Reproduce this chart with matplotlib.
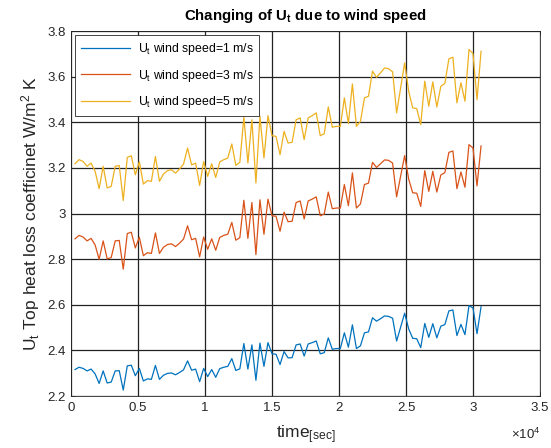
# Top heat loss coefficient Ut vs time for three wind speeds
import numpy as np
import matplotlib
matplotlib.use('Agg')
import matplotlib.pyplot as plt

plt.rcParams['font.family'] = ['Liberation Sans', 'DejaVu Sans']
plt.rcParams['mathtext.default'] = 'regular'

# sample times, 300 s step
time = np.arange(300, 30601, 300)

Ut_1ms = [2.316, 2.326, 2.321, 2.310, 2.318, 2.297, 2.255, 2.310, 2.257, 2.261,
          2.310, 2.311, 2.226, 2.332, 2.335, 2.289, 2.321, 2.266, 2.275, 2.273,
          2.334, 2.273, 2.291, 2.299, 2.301, 2.293, 2.303, 2.315, 2.354, 2.313,
          2.318, 2.263, 2.321, 2.285, 2.316, 2.282, 2.320, 2.326, 2.330, 2.364,
          2.312, 2.319, 2.430, 2.318, 2.424, 2.269, 2.432, 2.330, 2.434, 2.385,
          2.383, 2.338, 2.395, 2.367, 2.368, 2.424, 2.428, 2.375, 2.428, 2.434,
          2.441, 2.385, 2.390, 2.455, 2.405, 2.408, 2.408, 2.477, 2.414, 2.512,
          2.408, 2.420, 2.477, 2.481, 2.543, 2.528, 2.539, 2.551, 2.549, 2.541,
          2.441, 2.502, 2.563, 2.494, 2.453, 2.451, 2.412, 2.518, 2.457, 2.517,
          2.455, 2.506, 2.513, 2.573, 2.577, 2.465, 2.514, 2.469, 2.596, 2.586,
          2.473, 2.591]

Ut_3ms = [2.889, 2.904, 2.897, 2.880, 2.891, 2.862, 2.799, 2.880, 2.801, 2.807,
          2.880, 2.882, 2.756, 2.912, 2.918, 2.849, 2.896, 2.815, 2.828, 2.825,
          2.915, 2.825, 2.852, 2.864, 2.867, 2.855, 2.870, 2.888, 2.946, 2.885,
          2.891, 2.810, 2.897, 2.843, 2.889, 2.839, 2.895, 2.904, 2.909, 2.961,
          2.883, 2.894, 3.058, 2.891, 3.048, 2.820, 3.060, 2.909, 3.063, 2.990,
          2.988, 2.922, 3.006, 2.964, 2.966, 3.048, 3.055, 2.976, 3.055, 3.063,
          3.073, 2.990, 2.998, 3.094, 3.021, 3.024, 3.024, 3.127, 3.034, 3.178,
          3.024, 3.042, 3.127, 3.133, 3.224, 3.202, 3.218, 3.235, 3.233, 3.221,
          3.073, 3.164, 3.254, 3.151, 3.091, 3.089, 3.031, 3.188, 3.097, 3.185,
          3.094, 3.169, 3.179, 3.268, 3.274, 3.109, 3.182, 3.115, 3.302, 3.287,
          3.121, 3.296]

Ut_5ms = [3.218, 3.236, 3.228, 3.207, 3.221, 3.185, 3.109, 3.207, 3.112, 3.119,
          3.207, 3.210, 3.057, 3.246, 3.253, 3.170, 3.227, 3.129, 3.144, 3.141,
          3.250, 3.141, 3.173, 3.188, 3.192, 3.177, 3.195, 3.217, 3.287, 3.213,
          3.221, 3.123, 3.228, 3.163, 3.218, 3.158, 3.226, 3.236, 3.243, 3.305,
          3.211, 3.224, 3.423, 3.221, 3.411, 3.134, 3.426, 3.243, 3.429, 3.341,
          3.338, 3.258, 3.360, 3.309, 3.312, 3.411, 3.419, 3.324, 3.419, 3.429,
          3.441, 3.341, 3.350, 3.467, 3.378, 3.382, 3.382, 3.507, 3.394, 3.568,
          3.382, 3.404, 3.507, 3.514, 3.624, 3.597, 3.617, 3.638, 3.635, 3.621,
          3.441, 3.551, 3.660, 3.536, 3.463, 3.460, 3.390, 3.580, 3.470, 3.577,
          3.467, 3.558, 3.570, 3.678, 3.685, 3.485, 3.573, 3.492, 3.719, 3.701,
          3.499, 3.711]

labels = ['U$_t$ wind speed=1 m/s', 'U$_t$ wind speed=3 m/s', 'U$_t$ wind speed=5 m/s']
colors = ['#0072BD', '#D95319', '#EDB120']

fig = plt.figure(figsize=(5.51, 4.48), dpi=100)
ax = fig.add_axes([71/551, 52/448, 469/551, 365/448])

for y, lab, c in zip([Ut_1ms, Ut_3ms, Ut_5ms], labels, colors):
    ax.plot(time, y, color=c, linewidth=0.9, label=lab)

ax.set_xlim(0, 35000)
ax.set_ylim(2.2, 3.8)
xt = np.arange(0, 35001, 5000)
ax.set_xticks(xt)
ax.set_xticklabels(['0', '0.5', '1', '1.5', '2', '2.5', '3', '3.5'])
yt = np.arange(2.2, 3.81, 0.2)
ax.set_yticks(yt)
ax.set_yticklabels(['%g' % round(v, 1) for v in yt])
ax.tick_params(direction='in', top=True, right=True, labelsize=9.5,
               colors='#262626', length=3, width=0.6, pad=4)
ax.grid(True, color='#222222', linewidth=0.9)
for s in ax.spines.values():
    s.set_color('#262626')
    s.set_linewidth(0.6)

ax.text(1.0, -0.085, r'$\times$10$^4$', transform=ax.transAxes, ha='right',
        va='top', fontsize=9.5, color='#262626')
ax.set_title('Changing of U$_t$ due to wind speed', fontsize=10.8,
             fontweight='bold', pad=8)
ax.set_xlabel('time$_{[sec]}$', fontsize=12.5, color='#262626', labelpad=7)
ax.set_ylabel('U$_t$ Top heat loss coefficinet W/m$^2$ K', fontsize=12.5,
              color='#262626', labelpad=4)

leg = ax.legend(loc='upper left', fontsize=8.8, fancybox=False, framealpha=1,
                edgecolor='#262626', borderaxespad=0.35, handlelength=4.0,
                labelspacing=0.85, borderpad=0.5, handletextpad=0.6)
leg.get_frame().set_linewidth(0.6)

fig.savefig('out.png', dpi=100)
